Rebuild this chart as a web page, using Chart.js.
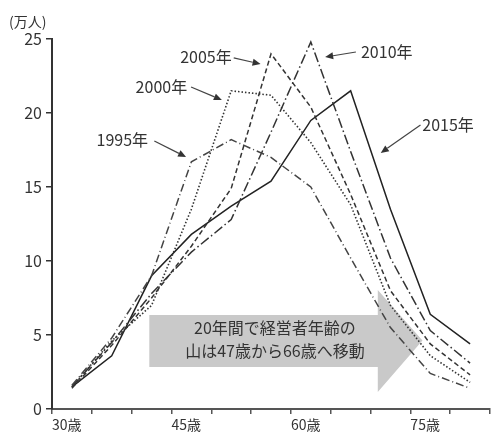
<!DOCTYPE html>
<html><head><meta charset="utf-8">
<script src="https://cdn.jsdelivr.net/npm/chart.js@4"></script>
<style>html,body{margin:0;padding:0;background:#fff;overflow:hidden;}</style>
</head><body>
<canvas id="c" width="492" height="434"></canvas>
<script>
// ---- data ----
const ages = [32.5, 37.5, 42.5, 47.5, 52.5, 57.5, 62.5, 67.5, 72.5, 77.5, 82.5];
const seriesNames = ['1995年', '2000年', '2005年', '2010年', '2015年'];
const v1995 = [1.6, 4.8, 9.0, 16.7, 18.2, 17.0, 15.0, 10.2, 5.5, 2.4, 1.4];
const v2000 = [1.5, 4.6, 7.0, 13.5, 21.5, 21.2, 18.0, 13.8, 7.0, 3.6, 1.8];
const v2005 = [1.4, 4.3, 7.5, 11.0, 14.9, 24.0, 20.4, 14.5, 8.0, 4.4, 2.3];
const v2010 = [1.5, 4.5, 7.8, 10.6, 12.8, 18.7, 24.8, 17.4, 10.2, 5.3, 3.1];
const v2015 = [1.5, 3.6, 9.0, 11.8, 13.7, 15.4, 19.5, 21.5, 13.5, 6.4, 4.4];
const xTickLabels = [30, 45, 60, 75];
const xTickSuffix = '歳';
const yTicks = [0, 5, 10, 15, 20, 25];
const unitLabel = '(万人)';
const noteLines = ['20年間で経営者年齢の', '山は47歳から66歳へ移動'];

const FONT = "'Noto Sans CJK JP', 'Noto Sans', sans-serif";
const pts = vals => ages.map((a, i) => ({x: a, y: vals[i]}));

const styles = [
  {dash: [8, 3, 1, 3], color: '#444', w: 1.5},
  {dash: [1.5, 2], color: '#333', w: 1.6},
  {dash: [5, 3], color: '#333', w: 1.5},
  {dash: [10, 3, 1.5, 3], color: '#333', w: 1.5},
  {dash: [], color: '#222', w: 1.5}
];
const allVals = [v1995, v2000, v2005, v2010, v2015];

// annotation placements in data units (age, value)
const seriesLabelPos = [
  {text: seriesNames[0], x: 35.6, y: 18.18, a: [42.85, 18.11, 46.84, 17.03]},
  {text: seriesNames[1], x: 40.5, y: 21.79, a: [47.46, 21.76, 51.33, 20.88]},
  {text: seriesNames[2], x: 46.1, y: 23.82, a: [52.82, 23.72, 56.19, 23.31]},
  {text: seriesNames[3], x: 68.8, y: 24.16, a: [68.16, 24.12, 64.30, 23.78]},
  {text: seriesNames[4], x: 76.5, y: 19.19, a: [76.27, 19.19, 71.28, 17.30]}
];
const bigArrow = {left: 42.22, bodyRight: 70.91, tip: 76.52, top: 6.35, bottom: 2.84, headTop: 8.04, headBottom: 1.15, mid: 4.62};
const noteCenter = {x: 58.0, y1: 5.45, y2: 3.95};

const annot = {
  id: 'annot',
  beforeDatasetsDraw(chart) {
    const ctx = chart.ctx, xs = chart.scales.x, ys = chart.scales.y;
    const X = v => xs.getPixelForValue(v), Y = v => ys.getPixelForValue(v);
    ctx.save();
    ctx.fillStyle = '#c9c9c9';
    ctx.beginPath();
    ctx.moveTo(X(bigArrow.left), Y(bigArrow.top));
    ctx.lineTo(X(bigArrow.bodyRight), Y(bigArrow.top));
    ctx.lineTo(X(bigArrow.bodyRight), Y(bigArrow.headTop));
    ctx.lineTo(X(bigArrow.tip), Y(bigArrow.mid));
    ctx.lineTo(X(bigArrow.bodyRight), Y(bigArrow.headBottom));
    ctx.lineTo(X(bigArrow.bodyRight), Y(bigArrow.bottom));
    ctx.lineTo(X(bigArrow.left), Y(bigArrow.bottom));
    ctx.closePath();
    ctx.fill();
    ctx.fillStyle = '#333';
    ctx.font = '16px ' + FONT;
    ctx.textAlign = 'center';
    ctx.textBaseline = 'middle';
    ctx.fillText(noteLines[0], X(noteCenter.x), Y(noteCenter.y1));
    ctx.fillText(noteLines[1], X(noteCenter.x), Y(noteCenter.y2));
    ctx.restore();
  },
  afterDatasetsDraw(chart) {
    const ctx = chart.ctx, xs = chart.scales.x, ys = chart.scales.y;
    const X = v => xs.getPixelForValue(v), Y = v => ys.getPixelForValue(v);
    ctx.save();
    ctx.fillStyle = '#333';
    ctx.strokeStyle = '#444';
    ctx.lineWidth = 1.2;
    ctx.font = '16px ' + FONT;
    ctx.textAlign = 'left';
    ctx.textBaseline = 'middle';
    seriesLabelPos.forEach(l => {
      ctx.fillText(l.text, X(l.x), Y(l.y));
      const x1 = X(l.a[0]), y1 = Y(l.a[1]), x2 = X(l.a[2]), y2 = Y(l.a[3]);
      const ang = Math.atan2(y2 - y1, x2 - x1);
      const hl = 8, hw = 3.5;
      const bx = x2 - hl * Math.cos(ang), by = y2 - hl * Math.sin(ang);
      ctx.beginPath(); ctx.moveTo(x1, y1); ctx.lineTo(bx, by); ctx.stroke();
      ctx.beginPath();
      ctx.moveTo(x2, y2);
      ctx.lineTo(bx + hw * Math.sin(ang), by - hw * Math.cos(ang));
      ctx.lineTo(bx - hw * Math.sin(ang), by + hw * Math.cos(ang));
      ctx.closePath(); ctx.fill();
    });
    // unit label above y axis
    ctx.font = '14px ' + FONT;
    ctx.textAlign = 'left';
    ctx.fillText(unitLabel, xs.left - 43, ys.top - 17);
    ctx.restore();
  }
};

new Chart(document.getElementById('c'), {
  type: 'line',
  data: {
    datasets: allVals.map((vals, i) => ({
      label: seriesNames[i],
      data: pts(vals),
      borderColor: styles[i].color,
      borderWidth: styles[i].w,
      borderDash: styles[i].dash,
      pointRadius: 0,
      tension: 0,
      fill: false
    }))
  },
  options: {
    responsive: false,
    animation: false,
    devicePixelRatio: 1,
    layout: {padding: {top: 39, right: 0, left: 0, bottom: 0}},
    plugins: {legend: {display: false}, tooltip: {enabled: false}},
    scales: {
      x: {
        type: 'linear', min: 30, max: 85,
        afterFit: s => { s.height = 25; },
        border: {color: '#555', width: 2},
        grid: {drawOnChartArea: false, drawTicks: true, tickLength: 5, color: '#555', lineWidth: 1.5},
        ticks: {
          stepSize: 5, autoSkip: false, maxRotation: 0, align: 'start', padding: 2,
          color: '#333', font: {family: FONT, size: 14},
          callback: v => xTickLabels.includes(v) ? v + xTickSuffix : ''
        }
      },
      y: {
        min: 0, max: 25,
        afterFit: s => { s.width = 52; },
        afterBuildTicks: s => { s.ticks = yTicks.map(v => ({value: v})); },
        border: {color: '#333', width: 2},
        grid: {drawOnChartArea: false, drawTicks: true, tickLength: 6, color: '#333', lineWidth: 1.5},
        ticks: {padding: 4, color: '#333', font: {family: FONT, size: 16}}
      }
    }
  },
  plugins: [annot]
});
</script>
</body></html>
